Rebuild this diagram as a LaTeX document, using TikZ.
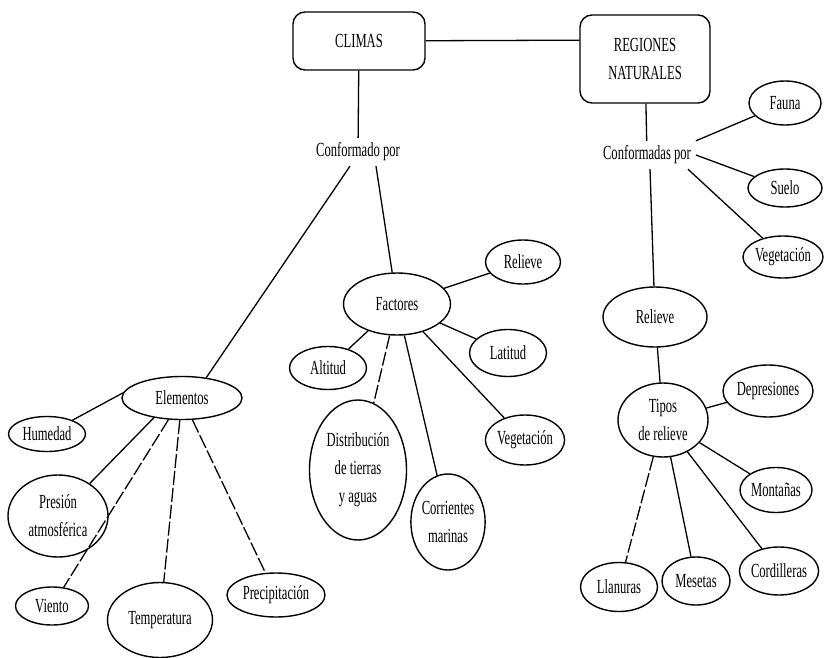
\documentclass[tikz,border=0pt]{standalone}
\usepackage{fontspec}
\setmainfont{Liberation Serif}[FakeStretch=0.63]
\usetikzlibrary{shapes.geometric}

\begin{document}
\begin{tikzpicture}[x=1pt,y=-1pt]
		\fill[white] (0,0) rectangle (824,658);
		\useasboundingbox (0,0) rectangle (824,658);
		\tikzstyle{every node}+=[font=\fontsize{20}{28}\selectfont,align=center,inner sep=0pt]
		\tikzstyle{caja}=[draw,rounded corners=12pt,line width=1.4pt]
		\tikzstyle{oval}=[draw,ellipse,line width=1.4pt]
		\tikzstyle{etiq}=[outer sep=5pt]
		% cabeceras
		\node[caja,minimum width=132,minimum height=58] (clim) at (359,41) {CLIMAS};
		\node[caja,minimum width=130,minimum height=88] (reg) at (645,59) {REGIONES\\NATURALES};
		\node[etiq] (cpor) at (358,152) {Conformado por};
		\node[etiq] (cpas) at (647,155) {Conformadas por};
		% factores
		\node[oval,minimum width=107,minimum height=62] (fac) at (397,304) {Factores};
		\node[oval,minimum width=75,minimum height=44] (relF) at (523,262) {Relieve};
		\node[oval,minimum width=77,minimum height=47] (lat) at (508,353) {Latitud};
		\node[oval,minimum width=77,minimum height=43] (alt) at (328,368) {Altitud};
		\node[oval,minimum width=97,minimum height=140] (dist) at (358,470) {Distribución\\de tierras\\y aguas};
		\node[oval,minimum width=68,minimum height=96] (corr) at (448,522) {Corrientes\\marinas};
		\node[oval,minimum width=76,minimum height=50] (vegF) at (525,440) {Vegetación};
		% elementos
		\node[oval,minimum width=120,minimum height=43] (elem) at (182,398) {Elementos};
		\node[oval,minimum width=77,minimum height=35] (hum) at (47,434) {Humedad};
		\node[oval,minimum width=100,minimum height=82] (pres) at (58,516) {Presión\\atmosférica};
		\node[oval,minimum width=73,minimum height=38] (vie) at (52,606) {Viento};
		\node[oval,minimum width=105,minimum height=75] (temp) at (160,620) {Temperatura};
		\node[oval,minimum width=98,minimum height=44] (prec) at (276,595) {Precipitación};
		% regiones
		\node[oval,minimum width=72,minimum height=44] (fau) at (785,103) {Fauna};
		\node[oval,minimum width=74,minimum height=38] (sue) at (785,188) {Suelo};
		\node[oval,minimum width=80,minimum height=42] (vegR) at (783,257) {Vegetación};
		\node[oval,minimum width=104,minimum height=60] (relR) at (655,317) {Relieve};
		\node[oval,minimum width=90,minimum height=74] (tip) at (663,420) {Tipos\\de relieve};
		\node[oval,minimum width=90,minimum height=52] (dep) at (768,391) {Depresiones};
		\node[oval,minimum width=72,minimum height=45] (mon) at (776,490) {Montañas};
		\node[oval,minimum width=78,minimum height=48] (cor) at (779,571) {Cordilleras};
		\node[oval,minimum width=68,minimum height=48] (mes) at (696,581) {Mesetas};
		\node[oval,minimum width=77,minimum height=49] (lla) at (619,587) {Llanuras};
		\tikzstyle{every edge}+=[draw,line width=1.3pt]
		\draw
		(clim) edge (reg.164)
		(clim) edge (cpor)
		([xshift=-8pt]cpor.south) edge (elem.40)
		([xshift=18pt]cpor.south) edge (fac)
		(fac) edge (relF) edge (lat) edge (alt) edge (corr) edge (vegF)
		(elem.175) edge (hum) 
		(elem.215) edge (pres)
		(reg) edge (cpas)
		(cpas.north east) edge (fau)
		(cpas.east) edge (sue)
		([xshift=-8pt]cpas.south east) edge (vegR)
		([xshift=3pt]cpas.south) edge (relR)
		(relR) edge (tip)
		(tip) edge (dep) edge (mon) edge (cor) edge (mes)
		;
		\draw[dash pattern=on 14pt off 3pt]
		(fac) edge (dist)
		(elem) edge (vie) edge (temp) edge (prec)
		(tip) edge (lla)
		;
	\end{tikzpicture}
\end{document}
